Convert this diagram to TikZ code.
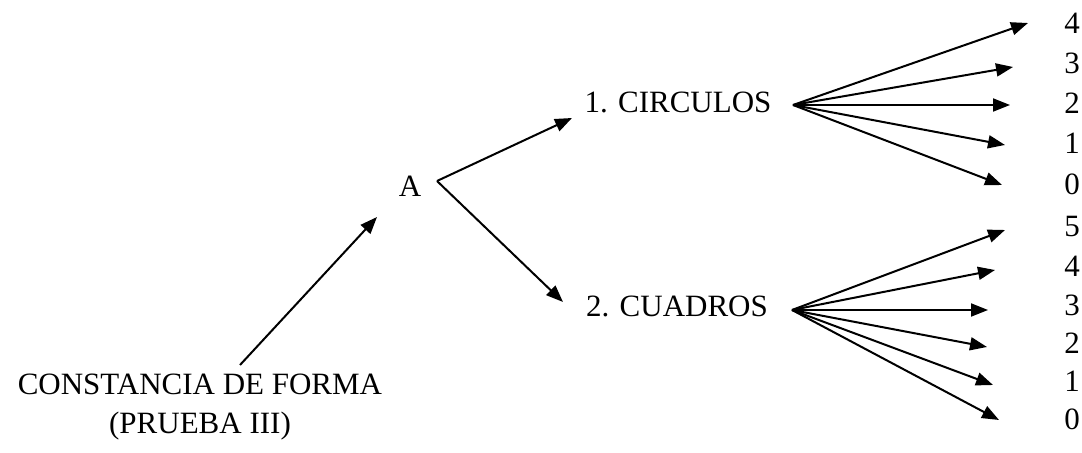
\documentclass[tikz,border=0pt]{standalone}
\usepackage{fontspec}
\setmainfont{Liberation Serif}
\usetikzlibrary{arrows.meta}
\tikzstyle{lbl}=[inner sep=1pt, font=\fontsize{15.5}{19.5}\selectfont]
\tikzstyle{arr}=[-{Triangle[length=8.5pt, width=6.5pt]}]

\begin{document}
\begin{tikzpicture}[x=0.5pt, y=-0.5pt, line width=1pt]
                \useasboundingbox (0,0) rectangle (1082,453);
                \node[lbl, align=center, anchor=base] (cdf) at (200,434) {CONSTANCIA DE FORMA\\(PRUEBA III)};
                \node[lbl] (a) at (410,186) {A};
                \node[lbl] (circ) at (678,102) {1. CIRCULOS};
                \node[lbl] (cuad) at (677,306) {2. CUADROS};
                \coordinate (cdftop) at (240,365);
                \coordinate (ain) at (377,217);
                \coordinate (aout) at (437,181);
                \coordinate (circin) at (572,118);
                \coordinate (cuadin) at (563,302);
                \coordinate (circfan) at (793,105);
                \coordinate (cuadfan) at (792,310);
                \draw[arr] (cdftop)--(ain);
                \draw[arr] (aout)--(circin);
                \draw[arr] (aout)--(cuadin);
                % scores for circulos
                \foreach \n/\ly/\tx/\ty in {4/23/1028/23, 3/63/1013/67, 2/103/1010/105, 1/143/1005/145, 0/184/1002/185}{
                    \node[lbl] (ci\n) at (1072,\ly) {\n};
                    \coordinate (tci\n) at (\tx,\ty);
                    \draw[arr] (circfan)--(tci\n);
                }
                % scores for cuadros
                \foreach \n/\ly/\tx/\ty in {5/227/1005/230, 4/266/995/270, 3/305/988/310, 2/343/987/347, 1/381/993/385, 0/419/999/420}{
                    \node[lbl] (cu\n) at (1072,\ly) {\n};
                    \coordinate (tcu\n) at (\tx,\ty);
                    \draw[arr] (cuadfan)--(tcu\n);
                }
            \end{tikzpicture}
\end{document}
